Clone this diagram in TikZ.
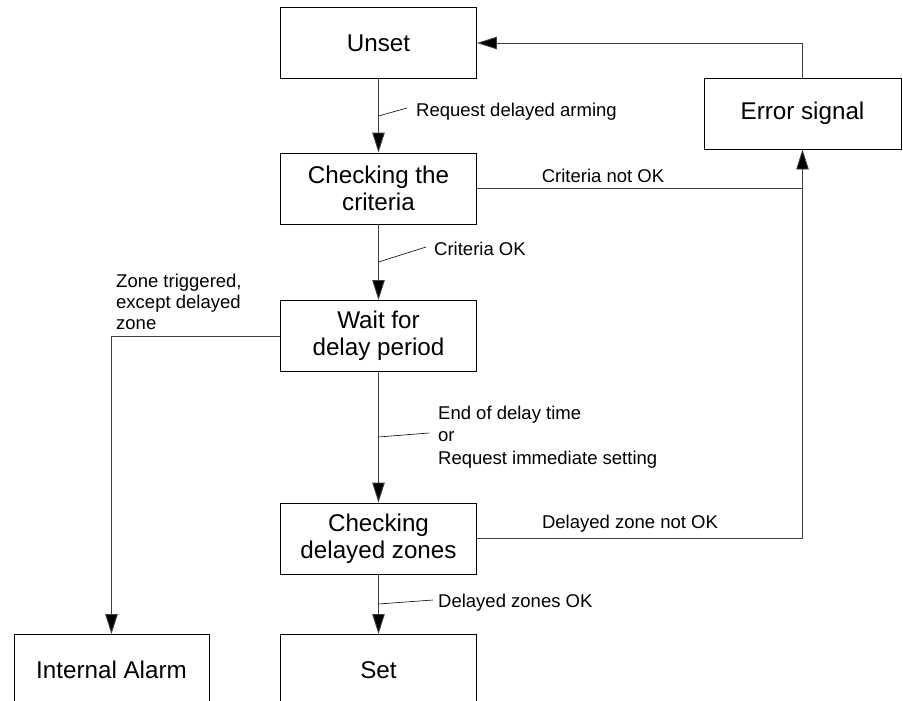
\documentclass[tikz,border=0pt]{standalone}
\usepackage{fontspec}
\setmainfont{Liberation Sans}
\usetikzlibrary{arrows.meta}
\begin{document}
\begin{tikzpicture}[x=1pt,y=-1pt,
  state/.style={draw=black, line width=0.9pt, minimum width=196pt, minimum height=71pt,
    inner sep=0pt, align=center, font=\fontsize{24.2}{27}\selectfont},
  flow/.style={draw=black!75, line width=0.9pt},
  arr/.style={flow, -{Triangle[length=20pt,width=12.5pt,fill=black]}},
  lbl/.style={font=\fontsize{18.5}{22.5}\selectfont, inner sep=0pt, align=left},
  lead/.style={draw=black, line width=0.6pt}]
\useasboundingbox (0,0) rectangle (903,701);
\clip (0,0) rectangle (903,701);

% states
\node[state] (unset) at (378.5,43) {Unset};
\node[state] (crit)  at (378.5,188.5) {Checking the\\criteria};
\node[state] (wait)  at (378.5,336) {Wait for\\delay period};
\node[state] (dz)    at (378.5,538.5) {Checking\\delayed zones};
\node[state] (set)   at (378.5,670) {Set};
\node[state, minimum width=195pt] (alarm) at (111.5,670) {Internal Alarm};
\node[state, minimum width=197pt] (err) at (802.5,113.5) {Error signal};

% transitions
\draw[arr] (unset) -- (crit);
\draw[arr] (crit) -- (wait);
\draw[arr] (wait) -- (dz);
\draw[arr] (dz) -- (set);
\draw[arr] (err.north) |- (unset.east);
\draw[arr] (crit.east) -| (err.south);
\coordinate (join) at (err.south |- crit.east);
\draw[flow] (dz.east) -| (join);
\draw[arr] (wait.west) -| (alarm.north);

% transition labels (base anchor of a multi-line label is its last line)
\node[lbl, anchor=base west] (t1) at (416,117) {Request delayed arming};
\draw[lead] (378.5,116) -- (407,108);
\node[lbl, anchor=base west] (t2) at (434,255) {Criteria OK};
\draw[lead] (378.5,262) -- (426,247);
\node[lbl, anchor=base] (t3) at (603,182) {Criteria not OK};
\node[lbl, anchor=base west, font=\fontsize{18.5}{21}\selectfont] (t4) at (116,329) {Zone triggered,\\except delayed\\zone};
\node[lbl, anchor=base west] (t5) at (438,464) {End of delay time\\or\\Request immediate setting};
\draw[lead] (378.5,437) -- (429,433);
\node[lbl, anchor=base] (t6) at (630,528) {Delayed zone not OK};
\node[lbl, anchor=base west] (t7) at (438,607) {Delayed zones OK};
\draw[lead] (378.5,604) -- (433,600);
\end{tikzpicture}
\end{document}
